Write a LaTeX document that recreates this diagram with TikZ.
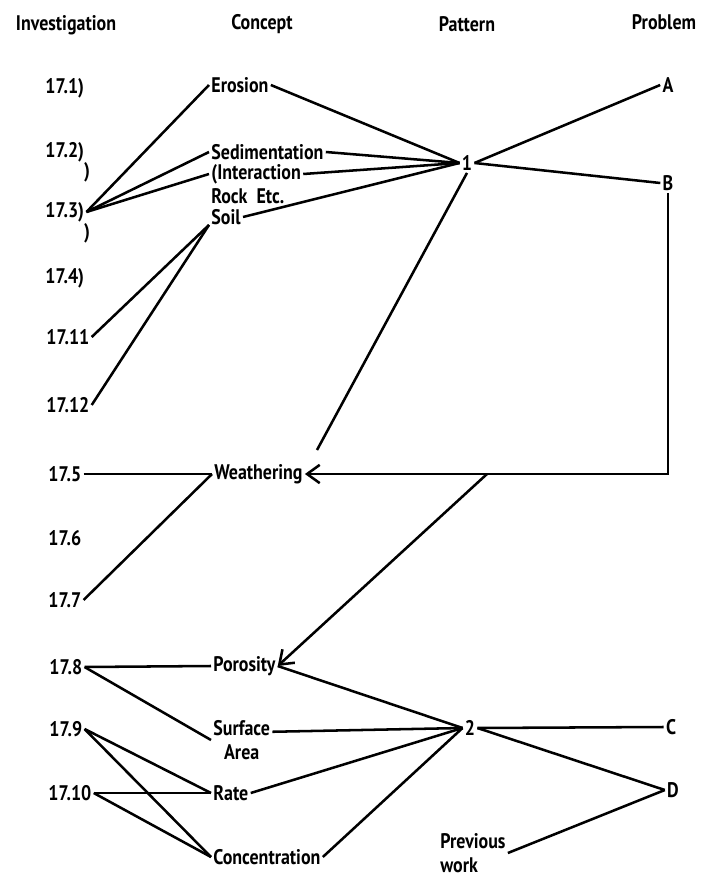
\documentclass[tikz,border=0pt]{standalone}
\usepackage{fontspec}
\setmainfont{PT Sans}[FakeStretch=0.85]
\usetikzlibrary{arrows.meta,positioning}
\tikzset{
  lbl/.style={inner sep=1.5pt,font=\bfseries\fontsize{15}{17}\selectfont},
  lft/.style={lbl,anchor=west},
  tight/.style={lft,inner ysep=0pt},
  link/.style={line width=1.8pt},
}
\begin{document}
\begin{tikzpicture}[x=0.025cm,y=-0.025cm,>={Straight Barb[length=9pt,width=13pt]}]
\useasboundingbox (0,0) rectangle (704,879);
%%%%%%%%%%%%%%%% headings
\node[lbl] (hinv) at (66,25) {Investigation};
\node[lbl] (hcon) at (262,24) {Concept};
\node[lbl] (hpat) at (467,24) {Pattern};
\node[lbl] (hpro) at (664,22) {Problem};
%%%%%%%%%%%%%%%% investigations
\node[lft] (i171) at (43,88) {17.1)};
\node[lft] (i172) at (43,152) {17.2)};
\node[lbl] (par2) at (87,172) {)};
\node[lft] (i173) at (43,212) {17.3)};
\node[lbl] (par3) at (87,233) {)};
\node[lft] (i174) at (43,278) {17.4)};
\node[lft] (i1711) at (44,337) {17.11};
\node[lft] (i1712) at (44,405) {17.12};
\node[lft] (i175) at (46,474) {17.5};
\node[lft] (i176) at (46,538) {17.6};
\node[lft] (i177) at (46,600) {17.7};
\node[lft] (i178) at (47,667) {17.8};
\node[lft] (i179) at (47,729) {17.9};
\node[lft] (i1710) at (46,793) {17.10};
%%%%%%%%%%%%%%%% concepts
\node[lft] (ero) at (209,85) {Erosion};
\node[tight] (sed) at (209,152) {Sedimentation};
\node[tight] (int) at (209,174) {(Interaction};
\node[tight] (rock) at (209,196) {Rock\ \ Etc.};
\node[tight] (soil) at (209,217) {Soil};
\node[lft] (wea) at (212,474) {Weathering};
\node[lft] (por) at (211,666) {Porosity};
\node[lft,align=center] (sur) at (211,740) {Surface\\Area};
\node[lft] (rate) at (211,793) {Rate};
\node[lft] (conc) at (211,857) {Concentration};
%%%%%%%%%%%%%%%% patterns and problems
\node[lbl] (pat1) at (467,163) {1};
\node[lbl] (pat2) at (470,728) {2};
\node[lbl] (prA) at (668,85) {A};
\node[lbl] (prB) at (668,183) {B};
\node[lbl] (prC) at (671,727) {C};
\node[lbl] (prD) at (673,790) {D};
\node[lft,align=left,inner ysep=0pt] (prev) at (438,853) {Previous\\work};
\coordinate (wtip) at (317,450);
\coordinate (fork) at (487,474);
%%%%%%%%%%%%%%%% links, top part
\draw[link] (i173.east) -- (ero.west);
\draw[link] (i173.east) -- (sed.west);
\draw[link] (i173.east) -- (int.west);
\draw[link] (i1711.east) -- (soil.south west);
\draw[link] (i1712.east) -- (soil.south west);
\draw[link] (ero.east) -- (pat1.west);
\draw[link] (sed.east) -- (pat1.west);
\draw[link] (int.east) -- (pat1.west);
\draw[link] (soil.east) -- (pat1.west);
\draw[link] (pat1.east) -- (prA.west);
\draw[link] (pat1.east) -- (prB.west);
\draw[link] (pat1.south) -- (wtip);
%%%%%%%%%%%%%%%% links, middle part
\draw[link,->] (prB.south) -- (prB.south |- wea.east) -- (wea.east);
\draw[link,->] (fork) -- (por.east);
\draw[link] (i175.east) -- (wea.west);
\draw[link] (i177.east) -- (wea.west);
%%%%%%%%%%%%%%%% links, bottom part
\draw[link] (i178.east) -- (por.west);
\draw[link] (i178.east) -- (sur.west);
\draw[link] (i179.east) -- (rate.west);
\draw[link] (i179.east) -- (conc.west);
\draw[link] (i1710.east) -- (rate.west);
\draw[link] (i1710.east) -- (conc.west);
\draw[link] (por.east) -- (pat2.west);
\draw[link] (sur.15) -- (pat2.west);
\draw[link] (rate.east) -- (pat2.west);
\draw[link] (conc.east) -- (pat2.west);
\draw[link] (pat2.east) -- (prC.west);
\draw[link] (pat2.east) -- (prD.west);
\draw[link] (prD.west) -- (prev.east);
\end{tikzpicture}
\end{document}
